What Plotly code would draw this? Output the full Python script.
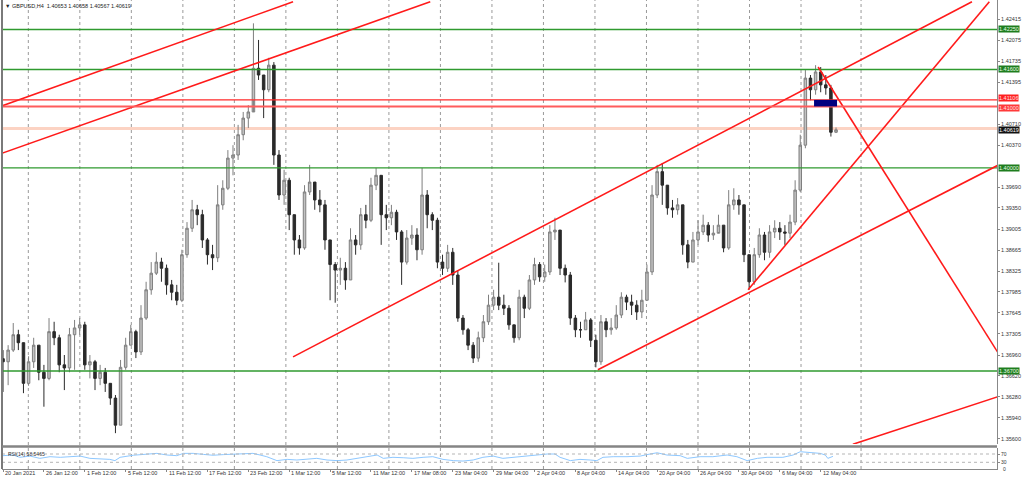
import plotly.graph_objects as go

# ---------------- data ----------------
first_open = 1.3690
closes = [
    1.3685, 1.3704, 1.3729, 1.3716, 1.3650, 1.3685, 1.3712, 1.3668, 1.3658, 1.3734,
    1.3724, 1.3680, 1.3675, 1.3729, 1.3740, 1.3745, 1.3680, 1.3685, 1.3658, 1.3668,
    1.3650, 1.3626, 1.3582, 1.3676, 1.3712, 1.3734, 1.3701, 1.3756, 1.3802, 1.3829,
    1.3847, 1.3837, 1.3810, 1.3798, 1.3785, 1.3859, 1.3902, 1.3932, 1.3924, 1.3883,
    1.3859, 1.3854, 1.3940, 1.3967, 1.4016, 1.4021, 1.4054, 1.4081, 1.4091, 1.4162,
    1.4151, 1.4127, 1.4167, 1.4021, 1.3956, 1.3980, 1.3924, 1.3883, 1.3870, 1.3961,
    1.3977, 1.3948, 1.3940, 1.3883, 1.3843, 1.3834, 1.3837, 1.3818, 1.3883, 1.3875,
    1.3924, 1.3915, 1.3972, 1.3988, 1.3924, 1.3919, 1.3928, 1.3896, 1.3847, 1.3886,
    1.3891, 1.3867, 1.3956, 1.3924, 1.3915, 1.3847, 1.3837, 1.3863, 1.3826, 1.3756,
    1.3737, 1.3712, 1.3691, 1.3724, 1.3750, 1.3777, 1.3790, 1.3777, 1.3772, 1.3745,
    1.3724, 1.3790, 1.3772, 1.3818, 1.3843, 1.3823, 1.3831, 1.3896, 1.3899, 1.3837,
    1.3826, 1.3756, 1.3737, 1.3737, 1.3753, 1.3720, 1.3685, 1.3750, 1.3737, 1.3740,
    1.3761, 1.3790, 1.3782, 1.3777, 1.3766, 1.3785, 1.3831, 1.3956, 1.3994, 1.3972,
    1.3935, 1.3932, 1.3940, 1.3875, 1.3847, 1.3883, 1.3896, 1.3907, 1.3891, 1.3894,
    1.3907, 1.3870, 1.3940, 1.3948, 1.3940, 1.3859, 1.3815, 1.3859, 1.3891, 1.3863,
    1.3896, 1.3902, 1.3896, 1.3894, 1.3912, 1.3964, 1.4037, 1.4146, 1.4127, 1.4156,
    1.4135, 1.4130, 1.4058, 1.40619,
]
highs = [
    1.3704, 1.3712, 1.3748, 1.3737, 1.3696, 1.3694, 1.3724, 1.3712, 1.3680, 1.3756,
    1.3750, 1.3729, 1.3696, 1.3740, 1.3753, 1.3756, 1.3750, 1.3696, 1.3688, 1.3680,
    1.3675, 1.3650, 1.3631, 1.3688, 1.3724, 1.3745, 1.3737, 1.3777, 1.3815, 1.3847,
    1.3863, 1.3854, 1.3843, 1.3818, 1.3810, 1.3867, 1.3912, 1.3948, 1.3940, 1.3932,
    1.3886, 1.3875, 1.3972, 1.3980, 1.4029, 1.4037, 1.4070, 1.4091, 1.4102, 1.4235,
    1.4208, 1.4143, 1.4179, 1.4172, 1.4029, 1.3997, 1.3984, 1.3924, 1.3891, 1.3972,
    1.4005, 1.3972, 1.3964, 1.3948, 1.3883, 1.3847, 1.3854, 1.3847, 1.3902, 1.3891,
    1.3935, 1.3940, 1.3984, 1.4000, 1.3988, 1.3940, 1.3940, 1.3932, 1.3899, 1.3899,
    1.3907, 1.3902, 1.4000, 1.3964, 1.3928, 1.3919, 1.3859, 1.3875, 1.3870, 1.3834,
    1.3761, 1.3740, 1.3717, 1.3734, 1.3761, 1.3794, 1.3802, 1.3846, 1.3794, 1.3777,
    1.3745, 1.3802, 1.3794, 1.3826, 1.3854, 1.3847, 1.3843, 1.3907, 1.3919, 1.3891,
    1.3843, 1.3831, 1.3761, 1.3750, 1.3766, 1.3756, 1.3729, 1.3761, 1.3756, 1.3756,
    1.3777, 1.3798, 1.3794, 1.3794, 1.3785, 1.3802, 1.3843, 1.3972, 1.4005, 1.4008,
    1.3956, 1.3948, 1.3951, 1.3940, 1.3883, 1.3896, 1.3915, 1.3924, 1.3912, 1.3907,
    1.3924, 1.3907, 1.3964, 1.3967, 1.3956, 1.3940, 1.3859, 1.3870, 1.3902, 1.3896,
    1.3907, 1.3915, 1.3912, 1.3907, 1.3924, 1.3980, 1.4054, 1.4159, 1.4151, 1.4167,
    1.4164, 1.4151, 1.4135, 1.40658,
]
lows = [
    1.3636, 1.3647, 1.3701, 1.3704, 1.3634, 1.3646, 1.3675, 1.3655, 1.3612, 1.3655,
    1.3712, 1.3668, 1.3639, 1.3668, 1.3672, 1.3729, 1.3672, 1.3658, 1.3639, 1.3647,
    1.3636, 1.3615, 1.3569, 1.3582, 1.3672, 1.3712, 1.3691, 1.3696, 1.3753, 1.3794,
    1.3826, 1.3815, 1.3794, 1.3785, 1.3777, 1.3782, 1.3854, 1.3896, 1.3907, 1.3870,
    1.3843, 1.3834, 1.3847, 1.3932, 1.3964, 1.3988, 1.4013, 1.4045, 1.4065, 1.4110,
    1.4143, 1.4081, 1.4123, 1.4005, 1.3948, 1.3940, 1.3899, 1.3859, 1.3859, 1.3867,
    1.3956, 1.3932, 1.3928, 1.3867, 1.3785, 1.3781, 1.3810, 1.3802, 1.3818, 1.3859,
    1.3867, 1.3902, 1.3912, 1.3964, 1.3875, 1.3899, 1.3907, 1.3883, 1.3810, 1.3843,
    1.3875, 1.3850, 1.3859, 1.3902, 1.3899, 1.3837, 1.3826, 1.3831, 1.3810, 1.3750,
    1.3729, 1.3704, 1.3683, 1.3685, 1.3717, 1.3745, 1.3769, 1.3769, 1.3761, 1.3737,
    1.3716, 1.3720, 1.3756, 1.3769, 1.3810, 1.3815, 1.3815, 1.3826, 1.3883, 1.3826,
    1.3814, 1.3745, 1.3725, 1.3724, 1.3737, 1.3709, 1.3676, 1.3680, 1.3725, 1.3729,
    1.3737, 1.3756, 1.3769, 1.3761, 1.3753, 1.3756, 1.3785, 1.3826, 1.3951, 1.3940,
    1.3924, 1.3919, 1.3924, 1.3859, 1.3837, 1.3847, 1.3875, 1.3891, 1.3880, 1.3883,
    1.3896, 1.3863, 1.3867, 1.3932, 1.3924, 1.3847, 1.3802, 1.3810, 1.3854, 1.3850,
    1.3854, 1.3886, 1.3883, 1.3875, 1.3886, 1.3907, 1.3961, 1.4032, 1.4110, 1.4119,
    1.4123, 1.4119, 1.4051, 1.40567,
]

time_labels = ["20 Jan 2021", "26 Jan 12:00", "1 Feb 12:00", "5 Feb 12:00", "11 Feb 12:00",
               "17 Feb 12:00", "23 Feb 12:00", "1 Mar 12:00", "5 Mar 12:00", "11 Mar 12:00",
               "17 Mar 08:00", "23 Mar 04:00", "29 Mar 04:00", "2 Apr 04:00", "8 Apr 04:00",
               "14 Apr 04:00", "20 Apr 04:00", "26 Apr 04:00", "30 Apr 04:00", "6 May 04:00",
               "12 May 04:00"]
bars_per_label = 8

price_ticks = [1.42415, 1.42075, 1.41735, 1.41395, 1.40710, 1.40370,
               1.39690, 1.39350, 1.39005, 1.38665, 1.38325, 1.37985, 1.37645, 1.37305,
               1.36960, 1.36620, 1.36280, 1.35940, 1.35600]

green_levels = [1.42250, 1.41600, 1.40000, 1.36700]
red_levels = [1.41106, 1.41000]
bid_price = 1.40619
header = "GBPUSD,H4  1.40653 1.40658 1.40567 1.40619"

# trendlines: (bar, price) -> (bar, price)
trendlines = [
    ((-0.5, 1.4100), (56.75, 1.4270)),
    ((-0.5, 1.4023), (83.6, 1.4270)),
    ((56.75, 1.3693), (189.6, 1.4270)),
    ((116.4, 1.3672), (194.6, 1.4004)),
    ((145.8, 1.3802), (193.0, 1.4270)),
    ((159.5, 1.4164), (194.6, 1.3701)),
    ((166.3, 1.3551), (194.6, 1.3628)),
]
zone = (158.7, 163.2, 1.41000, 1.41106)

rsi_bar = [0, 2, 3.3, 5.3, 7.2, 9.2, 11.2, 13.1, 15.1, 17, 19, 20.9, 21.9, 22.9, 25.5, 28.1,
           30.1, 32.1, 34, 35.3, 37.2, 39.2, 41.1, 43.1, 45, 47, 48.9, 50.3, 51.6, 53.6, 55.6,
           57.5, 59.5, 61.4, 63.4, 65.4, 67.3, 69.3, 71.2, 73.2, 74.4, 76.3, 78.3, 80.2, 82.2,
           84.1, 86.1, 88.1, 90, 92, 93.9, 95.9, 97.8, 99.8, 101.8, 103.7, 106.5, 108, 109,
           111, 112.9, 114.9, 116.2, 117.4, 119.4, 122.1, 124.7, 126.2, 128, 129.9, 132.5,
           133.9, 136.4, 138.9, 141.7, 143.6, 145.6, 147.6, 149.5, 152.6, 154.6, 156, 157.9,
           159.9, 160.9, 161.4, 162.4]
rsi_val = [62, 65, 54, 60, 49, 57, 54, 57, 60, 49, 47, 44, 38, 54, 64, 68,
           73, 65, 62, 73, 73, 68, 64, 67, 68, 70, 73, 65, 57, 38, 44,
           41, 46, 49, 41, 38, 41, 49, 57, 65, 49, 54, 52, 49, 54,
           57, 44, 38, 36, 41, 54, 60, 49, 54, 57, 65, 70, 70, 54,
           38, 44, 41, 38, 54, 57, 57, 60, 68, 76, 65, 62,
           49, 57, 57, 65, 57, 38, 49, 54, 54, 65, 81, 76,
           73, 65, 49, 58.5465]

# ---------------- figure ----------------
n = min(len(closes), len(highs), len(lows))
bars = list(range(n))
opens = [first_open] + closes[:n - 1]

FONT = "Liberation Sans, Arial, sans-serif"
XR = [-0.2, 194.5]
Y_MAIN = [1.35514, 1.42729]
Y_RSI = [-2.3, 98.9]
H_PLOT = 469.0
main_dom = [(H_PLOT - 444) / H_PLOT, 1.0]
rsi_dom = [0.0, 21 / H_PLOT]
GREEN = "#2f9a2f"

fig = go.Figure()
fig.add_trace(go.Candlestick(
    x=bars, open=opens, high=highs[:n], low=lows[:n], close=closes[:n],
    increasing=dict(line=dict(color="#7f7f7f", width=1), fillcolor="#c2c2c2"),
    decreasing=dict(line=dict(color="#2a2a2a", width=1), fillcolor="#2a2a2a"),
    whiskerwidth=0, showlegend=False, hoverinfo="skip", xaxis="x", yaxis="y"))

# horizontal levels drawn as lines across the full x-range
for lv in green_levels:
    fig.add_trace(go.Scatter(x=[XR[0] - 1, XR[1] + 1], y=[lv, lv], mode="lines",
                             line=dict(color=GREEN, width=1.3),
                             showlegend=False, hoverinfo="skip", xaxis="x", yaxis="y"))

for (x0, y0), (x1, y1) in trendlines:
    fig.add_trace(go.Scatter(x=[x0, x1], y=[y0, y1], mode="lines",
                             line=dict(color="#ff1a1a", width=1.6),
                             showlegend=False, hoverinfo="skip", xaxis="x", yaxis="y"))

fig.add_trace(go.Scatter(x=rsi_bar, y=rsi_val, mode="lines",
                         line=dict(color="#8ec8ff", width=1),
                         showlegend=False, hoverinfo="skip", xaxis="x2", yaxis="y2"))

shapes = []
# vertical dotted grid
grid = [4.95 + 10.08 * k for k in range(16)] + [167.9]
for g in grid:
    shapes.append(dict(type="line", xref="x", yref="paper", x0=g, x1=g, y0=0, y1=1,
                       line=dict(color="#9a9a9a", width=1, dash="dot"), layer="below"))
shapes.append(dict(type="line", xref="paper", yref="y", x0=0, x1=1, y0=red_levels[0], y1=red_levels[0],
                   line=dict(color="#ff2a2a", width=1.3), layer="above"))
shapes.append(dict(type="line", xref="paper", yref="y", x0=0, x1=1, y0=red_levels[1], y1=red_levels[1],
                   line=dict(color="#ff5c5c", width=2), layer="above"))
shapes.append(dict(type="line", xref="paper", yref="y", x0=0, x1=1, y0=bid_price + 0.0002, y1=bid_price + 0.0002,
                   line=dict(color="#fcd3c3", width=3), layer="below"))
# zone rectangle
shapes.append(dict(type="rect", xref="x", yref="y", x0=zone[0], x1=zone[1], y0=zone[2], y1=zone[3],
                   fillcolor="#000080", line=dict(width=0), layer="above"))
# RSI levels
for lv in [70, 30]:
    shapes.append(dict(type="line", xref="paper", yref="y2", x0=0, x1=1, y0=lv, y1=lv,
                       line=dict(color="#b5b5b5", width=1, dash="dot")))
# frame lines
shapes.append(dict(type="line", xref="paper", yref="paper", x0=0, x1=0, y0=0, y1=1,
                   line=dict(color="#7a7a7a", width=2)))
sep = (H_PLOT - 446.5) / H_PLOT
shapes.append(dict(type="line", xref="paper", yref="paper", x0=0, x1=1, y0=sep, y1=sep,
                   line=dict(color="#858585", width=2.5)))

annotations = []
lab_font = dict(family=FONT, size=5.5, color="#333333")
for k, t in enumerate(time_labels):
    annotations.append(dict(x=k * bars_per_label, y=-4 / H_PLOT, xref="x2", yref="paper",
                            xanchor="left", yanchor="middle", text=t, showarrow=False,
                            font=lab_font))
for lv in green_levels:
    annotations.append(dict(x=1, y=lv, xref="paper", yref="y", xanchor="left", yanchor="middle",
                            xshift=1, text=f"{lv:.5f}", showarrow=False, bgcolor="#1e7d1e",
                            borderpad=0, font=dict(family=FONT, size=5.5, color="#e8ffe8")))
annotations.append(dict(x=1, y=red_levels[0], xref="paper", yref="y", xanchor="left", yanchor="bottom",
                        xshift=1, yshift=-2, text=f"{red_levels[0]:.5f}", showarrow=False, bgcolor="#ff2020",
                        borderpad=0, font=dict(family=FONT, size=5.5, color="#ffe0e0")))
annotations.append(dict(x=1, y=red_levels[1], xref="paper", yref="y", xanchor="left", yanchor="top",
                        xshift=1, yshift=2, text=f"{red_levels[1]:.5f}", showarrow=False, bgcolor="#ff3a3a",
                        borderpad=0, font=dict(family=FONT, size=5.5, color="#ffe0e0")))
annotations.append(dict(x=1, y=bid_price, xref="paper", yref="y", xanchor="left", yanchor="middle",
                        xshift=1, text=f"{bid_price:.5f}", showarrow=False, bgcolor="#111111",
                        borderpad=0, font=dict(family=FONT, size=5.5, color="#ffffff")))
annotations.append(dict(x=0, y=1, xref="paper", yref="paper", xanchor="left", yanchor="top",
                        xshift=1, yshift=-1, text="▼ " + header, showarrow=False,
                        font=dict(family=FONT, size=5.5, color="#222222")))
annotations.append(dict(x=0, y=rsi_dom[1], xref="paper", yref="paper", xanchor="left", yanchor="top",
                        xshift=4, yshift=-1, text="RSI(14) 58.5465", showarrow=False,
                        font=dict(family=FONT, size=5, color="#333333")))
for txt, lv in [("100", 100), ("0", -1)]:
    annotations.append(dict(x=1, y=lv, xref="paper", yref="y2", xanchor="left", yanchor="middle",
                            xshift=4, text=txt, showarrow=False,
                            font=dict(family=FONT, size=5, color="#333333")))

fig.update_layout(
    width=1024, height=479,
    margin=dict(l=2, r=27, t=0, b=10),
    paper_bgcolor="white", plot_bgcolor="white",
    showlegend=False,
    xaxis=dict(domain=[0, 1], range=XR, anchor="y", showticklabels=False, showgrid=False,
               zeroline=False, rangeslider=dict(visible=False), fixedrange=True),
    yaxis=dict(domain=main_dom, range=Y_MAIN, side="right", anchor="x",
               tickvals=price_ticks, ticktext=[f"{v:.5f}" for v in price_ticks],
               ticks="outside", ticklen=2, tickcolor="#888888",
               tickfont=dict(family=FONT, size=5.5, color="#333333"),
               showline=True, linecolor="#888888", linewidth=1,
               showgrid=False, zeroline=False),
    xaxis2=dict(domain=[0, 1], range=XR, anchor="y2", showticklabels=False, showgrid=False,
                zeroline=False, showline=True, linecolor="#888888",
                tickvals=[k * bars_per_label for k in range(len(time_labels))],
                ticks="outside", ticklen=2, tickcolor="#888888"),
    yaxis2=dict(domain=rsi_dom, range=Y_RSI, side="right", anchor="x2",
                tickvals=[70, 30], ticktext=["70", "30"], ticks="outside", ticklen=2,
                tickcolor="#888888", tickfont=dict(family=FONT, size=5, color="#333333"),
                showline=True, linecolor="#888888", showgrid=False, zeroline=False),
    shapes=shapes, annotations=annotations,
)

fig.write_html("out.html", config={"displayModeBar": False},
               post_script="document.body.style.margin='0px';")
